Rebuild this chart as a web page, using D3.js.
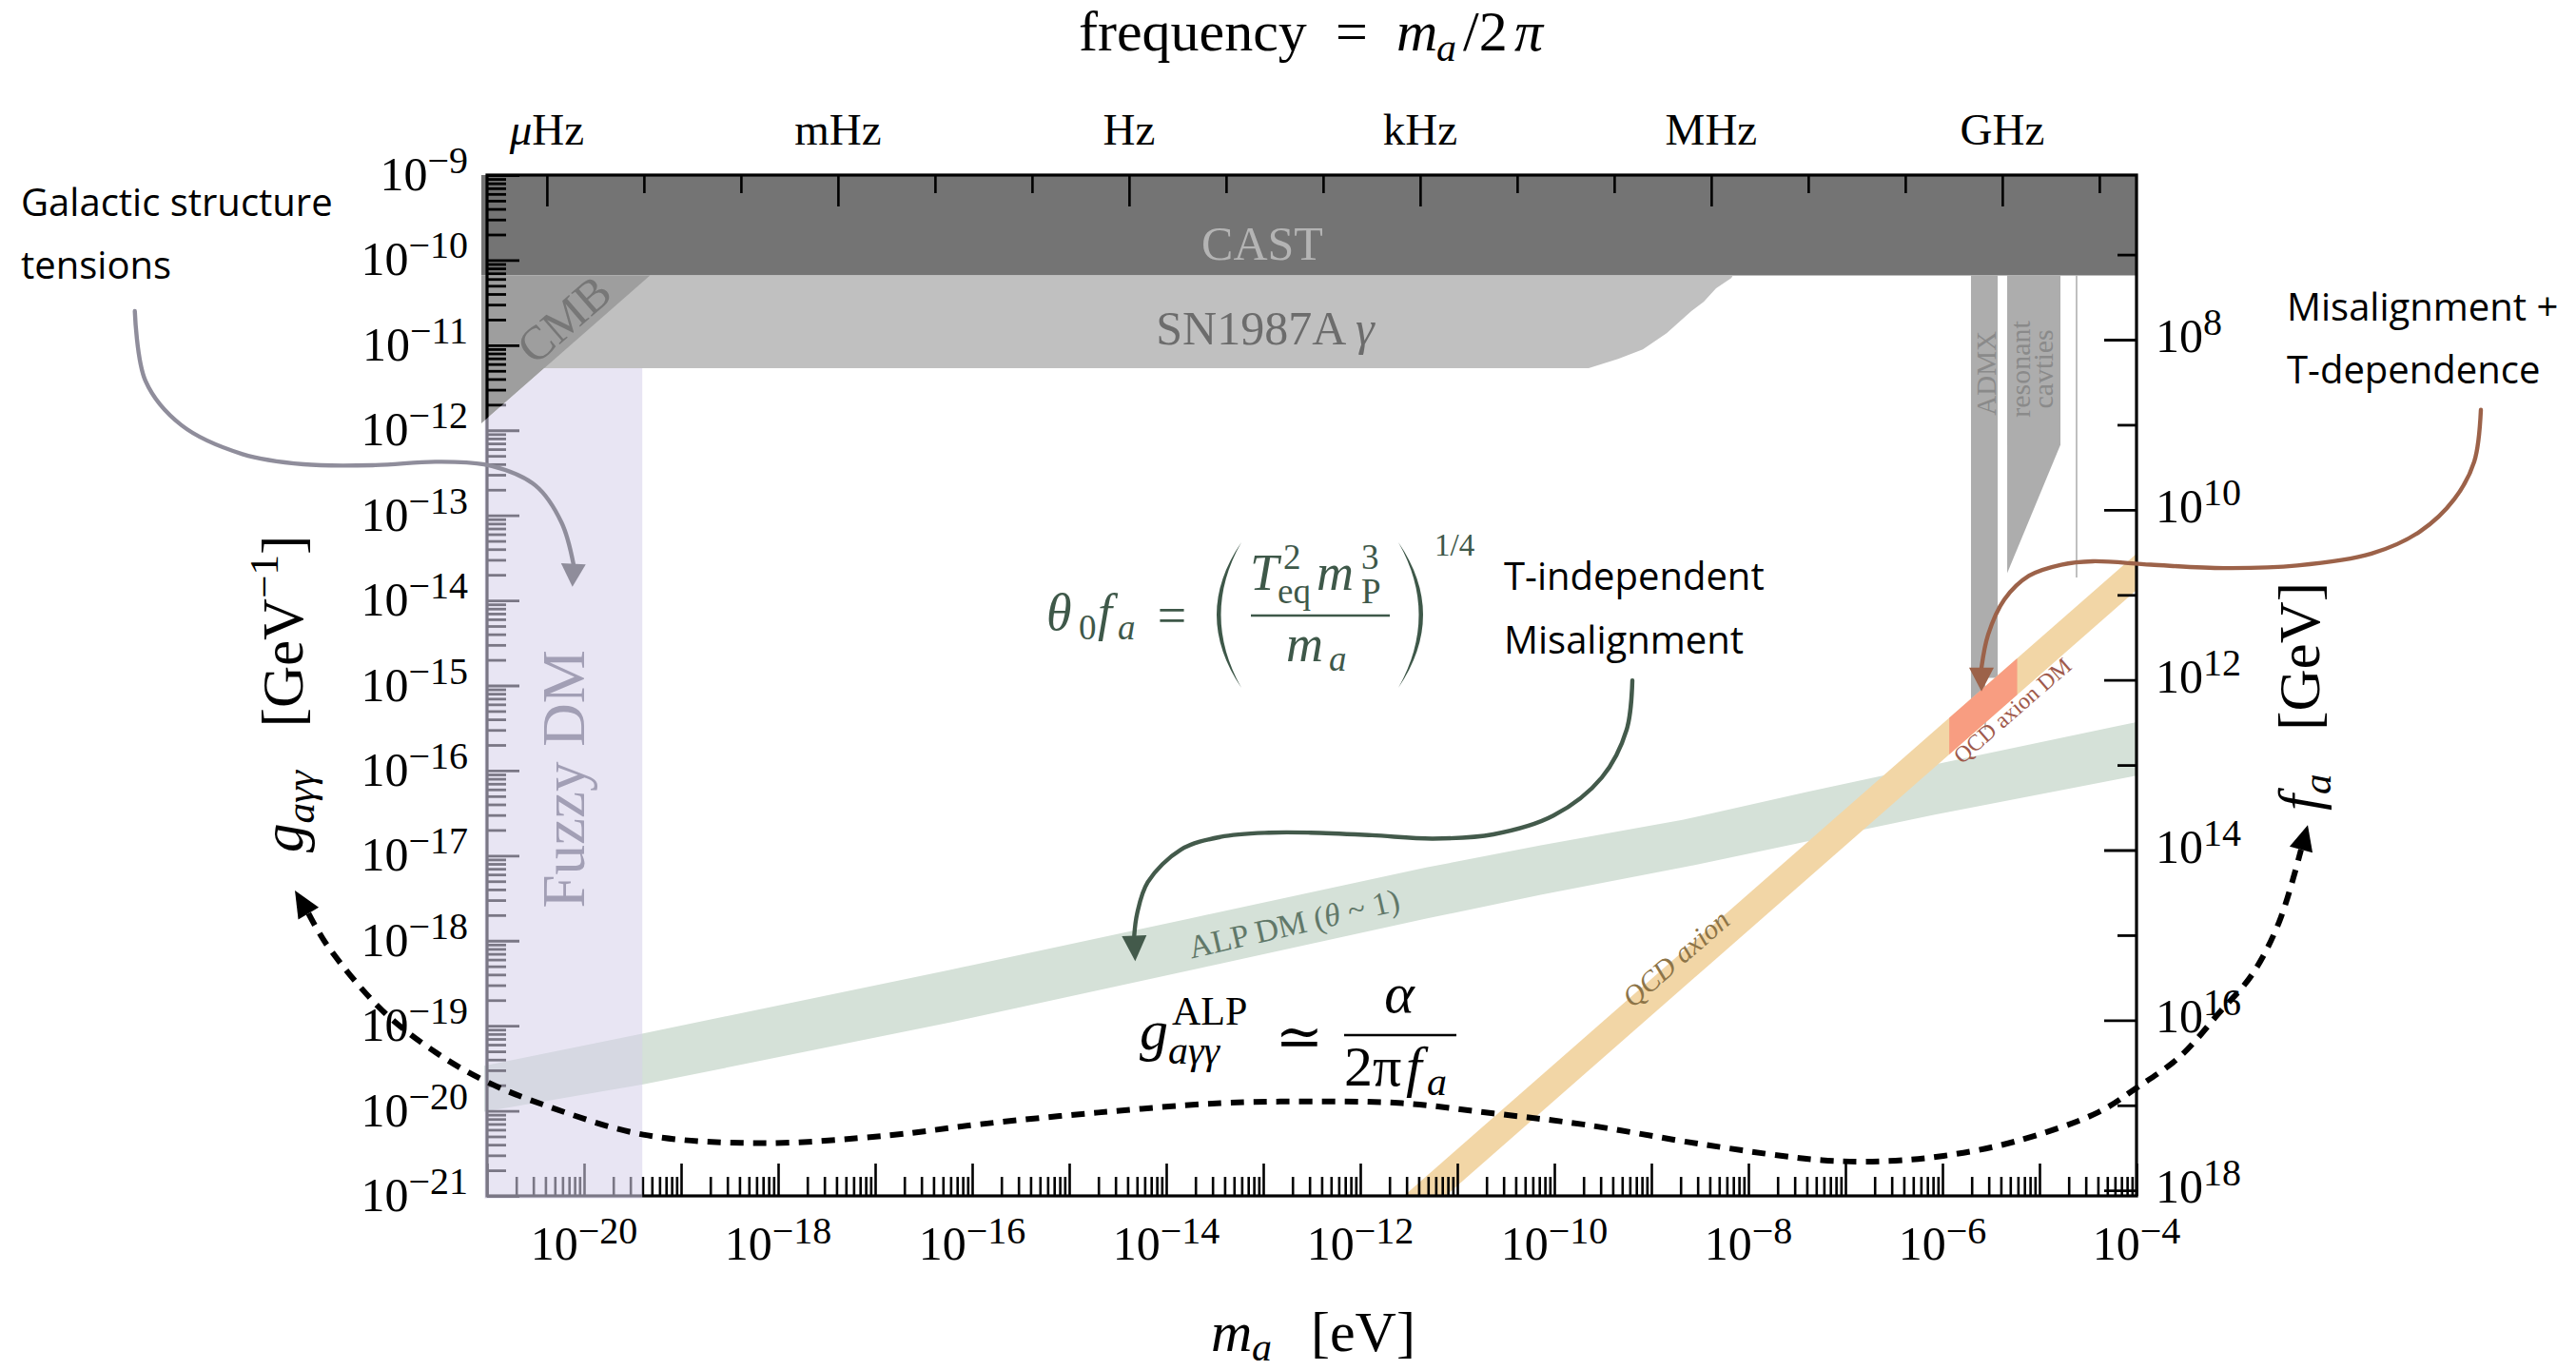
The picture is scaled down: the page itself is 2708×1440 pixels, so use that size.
<!DOCTYPE html>
<html>
<head>
<meta charset="utf-8">
<title>Axion / ALP parameter space</title>
<script src="https://cdn.jsdelivr.net/npm/d3@7"></script>
<style>
  html, body { margin: 0; padding: 0; background: #ffffff; }
  svg { display: block; }
</style>
</head>
<body>
<svg id="chart" width="2708" height="1440" xmlns="http://www.w3.org/2000/svg"></svg>
<script>
// ===================== DATA (log10 values: m_a in eV, g in GeV^-1) =====================
const massExtent = [-21, -4];
const couplingExtent = [-9, -21];

const massTickExp = [-21,-20,-19,-18,-17,-16,-15,-14,-13,-12,-11,-10,-9,-8,-7,-6,-5,-4];
const massLabelExp = [-20,-18,-16,-14,-12,-10,-8,-6,-4];
const couplingTickExp = [-9,-10,-11,-12,-13,-14,-15,-16,-17,-18,-19,-20,-21];
const minorMultipliers = [2,3,4,5,6,7,8,9];
const freqTickExp = [-6,-5,-4,-3,-2,-1,0,1,2,3,4,5,6,7,8,9,10];
const freqLabelExp = [-6,-3,0,3,6,9];
const freqPrefixes = ["\u03bc","m","","k","M","G"];
const faTickExp = [7,8,9,10,11,12,13,14,15,16,17,18];
const faLabelExp = [8,10,12,14,16,18];
const hOverEV = 4.1357e-15;          // m_a [eV] per Hz
const alphaOver2Pi = 1.1614e-3;      // g = alpha/(2 pi f_a)

// CAST helioscope
const castMass = [-21.06, -4.0, -4.0, -21.06];
const castG    = [-9.0, -9.0, -10.18, -10.18];
// SN1987A gamma
const snMass = [-21.06, -8.16, -8.176, -8.333, -8.461, -8.588, -8.843, -9.088, -9.343, -9.647, -21.06];
const snG    = [-10.18, -10.18, -10.21, -10.33, -10.49, -10.60, -10.86, -11.05, -11.16, -11.27, -11.27];
// CMB
const cmbMass = [-21.06, -19.32, -21.06];
const cmbG    = [-10.18, -10.18, -11.92];
// ADMX
const admxMass = [-5.706, -5.431, -5.431, -5.559, -5.559, -5.706];
const admxG    = [-10.18, -10.18, -14.91, -14.91, -15.19, -15.19];
const admxTailMass = [-5.559, -5.559];
const admxTailG    = [-15.19, -15.52];
// resonant cavities
const cavMass = [-5.333, -4.784, -4.784, -5.333];
const cavG    = [-10.18, -10.18, -12.17, -13.68];
const cavLineMass = [-4.618, -4.618];
const cavLineG    = [-10.18, -13.73];
// ALP DM band (theta ~ 1)
const alpMass  = [-21.03, -19.39, -16.22, -13.76, -11.32, -10.14, -8.68, -7.39, -6.09, -4.0];
const alpUpper = [-19.47, -19.09, -18.34, -17.74, -17.14, -16.88, -16.58, -16.25, -15.93, -15.43];
const alpLower = [-20.01, -19.69, -18.96, -18.35, -17.74, -17.46, -17.14, -16.83, -16.52, -16.06];
// QCD axion band
const qcdMass  = [-12.2, -3.5];
const qcdUpper = [-21.65, -12.95];
const qcdLower = [-22.08, -13.38];
// QCD axion DM
const qcdDmMass  = [-5.93, -5.23];
const qcdDmUpper = [-15.38, -14.68];
const qcdDmLower = [-15.81, -15.11];
// Fuzzy DM
const fuzzyMass = [-21.025, -20.41, -19.4, -19.4, -21.025];
const fuzzyG    = [-11.885, -11.27, -11.27, -21.03, -21.03];

// annotation curves (first/last point = arrow tips where relevant)
const dashMass = [-22.98,-22.84,-22.65,-22.08,-21.52,-21.00,-20.39,-19.39,-18.18,-16.87,-15.94,-14.70,-13.44,-12.51,-11.57,-10.63,-9.70,-8.44,-7.24,-6.56,-5.99,-5.25,-4.40,-4.00,-3.55,-3.15,-2.81,-2.53,-2.304,-2.235];
const dashG    = [-17.41,-17.68,-18.05,-18.82,-19.32,-19.66,-19.94,-20.28,-20.38,-20.29,-20.16,-20.02,-19.91,-19.89,-19.91,-20.03,-20.16,-20.40,-20.58,-20.59,-20.53,-20.36,-20.02,-19.73,-19.36,-18.85,-18.40,-17.78,-16.93,-16.64];
const galArrowMass = [-24.63,-24.52,-24.15,-23.52,-22.89,-22.15,-21.52,-20.95,-20.50,-20.23,-20.11,-20.12];
const galArrowG    = [-10.60,-11.42,-11.94,-12.28,-12.40,-12.41,-12.37,-12.42,-12.65,-13.09,-13.57,-13.84];
const misArrowMass = [-9.196,-9.255,-9.51,-10.01,-10.63,-11.25,-11.88,-12.51,-12.94,-13.44,-13.85,-14.19,-14.30,-14.33,-14.32];
const misArrowG    = [-14.94,-15.52,-16.08,-16.53,-16.75,-16.80,-16.76,-16.73,-16.73,-16.78,-16.93,-17.31,-17.68,-17.94,-18.24];
const tdepArrowMass = [-0.451,-0.520,-0.725,-1.078,-1.578,-2.343,-3.098,-3.853,-4.451,-4.775,-5.108,-5.363,-5.529,-5.598,-5.598];
const tdepArrowG    = [-11.76,-12.37,-12.81,-13.19,-13.45,-13.59,-13.62,-13.58,-13.54,-13.58,-13.71,-13.99,-14.40,-14.79,-15.07];

// ===================== RENDER =====================
const serif = "'Liberation Serif', 'DejaVu Serif', serif";
const sans = "'Open Sans', 'Noto Sans', sans-serif";
const svg = d3.select("#chart");

const x = d3.scaleLog().domain([Math.pow(10, massExtent[0]), Math.pow(10, massExtent[1])]).range([512, 2246]);
const y = d3.scaleLog().domain([Math.pow(10, couplingExtent[0]), Math.pow(10, couplingExtent[1])]).range([184, 1257]);
const X = v => x(Math.pow(10, v));
const Y = v => y(Math.pow(10, v));
const pts = (ms, gs) => ms.map((m, i) => [X(m), Y(gs[i])]);
const polyPath = (ms, gs) => d3.line()(pts(ms, gs)) + "Z";

const pl = X(massExtent[0]), pr = X(massExtent[1]), pt = Y(couplingExtent[0]), pb = Y(couplingExtent[1]);

svg.append("defs").append("clipPath").attr("id", "clipPlot").append("rect")
  .attr("x", X(-21.06)).attr("y", pt).attr("width", pr - X(-21.06)).attr("height", pb - pt);

const gReg = svg.append("g").attr("clip-path", "url(#clipPlot)");
gReg.append("path").attr("d", polyPath(alpMass.concat(alpMass.slice().reverse()), alpUpper.concat(alpLower.slice().reverse()))).attr("fill", "#d5e1d8");
gReg.append("path").attr("d", polyPath(castMass, castG)).attr("fill", "#747474");
gReg.append("path").attr("d", polyPath(snMass, snG)).attr("fill", "#c0c0c0");
gReg.append("path").attr("d", polyPath(cmbMass, cmbG)).attr("fill", "#9e9e9e");
gReg.append("path").attr("d", polyPath(admxMass, admxG)).attr("fill", "#adadad");
gReg.append("path").attr("d", d3.line()(pts(admxTailMass, admxTailG))).attr("stroke", "#a8a8a8").attr("stroke-width", 1.5).attr("fill", "none");
gReg.append("path").attr("d", polyPath(cavMass, cavG)).attr("fill", "#adadad");
gReg.append("path").attr("d", d3.line()(pts(cavLineMass, cavLineG))).attr("stroke", "#b0b0b0").attr("stroke-width", 1.6).attr("fill", "none");
gReg.append("path").attr("d", polyPath(qcdMass.concat(qcdMass.slice().reverse()), qcdUpper.concat(qcdLower.slice().reverse()))).attr("fill", "#f2d6a6");
gReg.append("path").attr("d", polyPath(qcdDmMass.concat(qcdDmMass.slice().reverse()), qcdDmUpper.concat(qcdDmLower.slice().reverse()))).attr("fill", "rgba(250,135,115,0.72)");

// region labels
function label(g, lm, lg, txt, opts) {
  const t = g.append("text").attr("font-family", serif)
    .attr("font-size", opts.size).attr("fill", opts.color)
    .attr("text-anchor", opts.anchor || "middle")
    .attr("transform", `translate(${X(lm)},${Y(lg)}) rotate(${opts.rot || 0})`);
  if (opts.dy) t.attr("dy", opts.dy);
  if (opts.italic) t.attr("font-style", "italic");
  return t.text(txt);
}
label(svg, -13.01, -9.996, "CAST", {size: 50, color: "#b4b4b4"});
const snT = svg.append("text").attr("font-family", serif).attr("font-size", 50).attr("fill", "#6c6c6c")
  .attr("text-anchor", "middle").attr("x", X(-12.98)).attr("y", Y(-10.99));
snT.append("tspan").text("SN1987A ");
snT.append("tspan").attr("font-style", "italic").text("\u03b3");
label(svg, -20.21, -10.69, "CMB", {size: 50, color: "#777777", rot: -41, dy: "0.35em"});
label(svg, -5.451, -11.33, "ADMX", {size: 29, color: "#8a8a8a", rot: -90});
label(svg, -5.098, -11.28, "resonant", {size: 30, color: "#8a8a8a", rot: -90});
label(svg, -4.863, -11.28, "cavties", {size: 30, color: "#8a8a8a", rot: -90});

// ---- axes ----
const gAx = svg.append("g");
const minorOf = exps => exps.slice(0, -1).flatMap(e => minorMultipliers.map(k => k * Math.pow(10, e)));
const massMinor = minorOf(massTickExp);
const couplingMinor = minorOf(couplingTickExp.slice().reverse());
function styleAxis(sel, w) {
  sel.select(".domain").remove();
  sel.selectAll("line").attr("stroke", "#000").attr("stroke-width", w);
  sel.selectAll("text").remove();
}
gAx.append("g").attr("transform", `translate(0,${pb})`)
  .call(d3.axisBottom(x).tickValues(massTickExp.map(e => Math.pow(10, e))).tickSize(-34)).call(s => styleAxis(s, 2.6));
gAx.append("g").attr("transform", `translate(0,${pb})`)
  .call(d3.axisBottom(x).tickValues(massMinor).tickSize(-20)).call(s => styleAxis(s, 2.6));
gAx.append("g").attr("transform", `translate(${pl},0)`)
  .call(d3.axisLeft(y).tickValues(couplingTickExp.map(e => Math.pow(10, e))).tickSize(-34)).call(s => styleAxis(s, 2.8));
gAx.append("g").attr("transform", `translate(${pl},0)`)
  .call(d3.axisLeft(y).tickValues(couplingMinor).tickSize(-20)).call(s => styleAxis(s, 2.8));
gAx.append("g").attr("transform", `translate(0,${pt})`)
  .call(d3.axisTop(x).tickValues(freqTickExp.filter(e => freqLabelExp.includes(e)).map(e => hOverEV * Math.pow(10, e))).tickSize(-33)).call(s => styleAxis(s, 2.6));
gAx.append("g").attr("transform", `translate(0,${pt})`)
  .call(d3.axisTop(x).tickValues(freqTickExp.filter(e => !freqLabelExp.includes(e)).map(e => hOverEV * Math.pow(10, e))).tickSize(-19)).call(s => styleAxis(s, 2.6));
gAx.append("g").attr("transform", `translate(${pr},0)`)
  .call(d3.axisRight(y).tickValues(faTickExp.filter(e => faLabelExp.includes(e)).map(e => alphaOver2Pi / Math.pow(10, e))).tickSize(-34)).call(s => styleAxis(s, 2.8));
gAx.append("g").attr("transform", `translate(${pr},0)`)
  .call(d3.axisRight(y).tickValues(faTickExp.filter(e => !faLabelExp.includes(e)).map(e => alphaOver2Pi / Math.pow(10, e))).tickSize(-20)).call(s => styleAxis(s, 2.8));
gAx.append("rect").attr("x", pl).attr("y", pt).attr("width", pr - pl).attr("height", pb - pt)
  .attr("fill", "none").attr("stroke", "#000").attr("stroke-width", 3.2);

// fuzzy DM overlay (covers axes)
svg.append("path").attr("d", polyPath(fuzzyMass, fuzzyG)).attr("fill", "rgb(214,209,234)").attr("fill-opacity", 0.57);
label(svg, -20.0, -16.10, "Fuzzy DM", {size: 63, color: "#a29fb5", rot: -90});

// band labels
const alpT = svg.append("text").attr("font-family", serif).attr("font-size", 34).attr("fill", "#617869")
  .attr("transform", `translate(${X(-13.74)},${Y(-18.21)}) rotate(-13)`);
alpT.append("tspan").text("ALP DM (");
alpT.append("tspan").attr("font-style", "italic").text("\u03b8");
alpT.append("tspan").text(" ~ 1)");
label(svg, -9.19, -18.80, "QCD axion", {size: 30, color: "#8d7447", rot: -41, anchor: "start", italic: true});
label(svg, -5.80, -15.93, "QCD axion DM", {size: 24, color: "#9f5a4c", rot: -41, anchor: "start"});

// ---- annotation curves ----
function arrowHead(g, tip, base, halfW, color) {
  const dx = tip[0] - base[0], dy = tip[1] - base[1], L = Math.hypot(dx, dy);
  const px = -dy / L, py = dx / L;
  g.append("path").attr("d", `M${tip[0]},${tip[1]}L${base[0] + px * halfW},${base[1] + py * halfW}L${base[0] - px * halfW},${base[1] - py * halfW}Z`).attr("fill", color);
}
const gAnn = svg.append("g");
const curve = d3.line().curve(d3.curveCatmullRom.alpha(0.5));
function arrowCurve(ms, gs, color, w) {
  const p = pts(ms, gs);
  gAnn.append("path").attr("d", curve(p.slice(0, -1))).attr("fill", "none").attr("stroke", color).attr("stroke-width", w).attr("stroke-linecap", "round");
  arrowHead(gAnn, p[p.length - 1], p[p.length - 2], 13, color);
}
arrowCurve(galArrowMass, galArrowG, "#8f8d9b", 4.4);
arrowCurve(misArrowMass, misArrowG, "#435a4b", 4.4);
arrowCurve(tdepArrowMass, tdepArrowG, "#9c6249", 4.4);
{
  const p = pts(dashMass, dashG);
  gAnn.append("path").attr("d", curve(p.slice(1, -1))).attr("fill", "none").attr("stroke", "#000")
    .attr("stroke-width", 6).attr("stroke-dasharray", "14,10");
  arrowHead(gAnn, p[0], p[1], 12.5, "#000");
  arrowHead(gAnn, p[p.length - 1], p[p.length - 2], 12.5, "#000");
}

// ---- tick labels ----
const gLab = svg.append("g").attr("font-family", serif).attr("fill", "#000");
function powLabel(xp, yp, exp, anchor, supDy) {
  const t = gLab.append("text").attr("x", xp).attr("y", yp).attr("text-anchor", anchor).attr("font-size", 50);
  t.append("tspan").text("10");
  t.append("tspan").attr("font-size", 40).attr("dy", supDy).text(exp < 0 ? "\u2212" + (-exp) : String(exp));
}
massLabelExp.forEach(e => powLabel(X(e), 1324, e, "middle", -17));
couplingTickExp.forEach(e => powLabel(492, Y(e) + 16, e, "end", -18));
faLabelExp.forEach(e => powLabel(2266, y(alphaOver2Pi / Math.pow(10, e)) + 13, e, "start", -18));
freqLabelExp.forEach((e, i) => {
  const t = gLab.append("text").attr("x", x(hOverEV * Math.pow(10, e))).attr("y", 152)
    .attr("text-anchor", "middle").attr("font-size", 47);
  if (freqPrefixes[i] === "\u03bc") t.append("tspan").attr("font-style", "italic").text("\u03bc");
  else t.append("tspan").text(freqPrefixes[i]);
  t.append("tspan").text("Hz");
});

// ---- axis titles ----
function pieces(g, list) {
  list.forEach(d => {
    const t = g.append("text").attr("x", d.x).attr("y", d.y).attr("font-size", d.s).text(d.t);
    if (d.i) t.attr("font-style", "italic");
    if (d.a) t.attr("text-anchor", d.a);
  });
}
const gTit = svg.append("g").attr("font-family", serif).attr("fill", "#000");
pieces(gTit, [
  {x: 1134, y: 53, s: 60, t: "frequency"},
  {x: 1421, y: 53, s: 60, t: "=", a: "middle"},
  {x: 1468, y: 53, s: 60, t: "m", i: 1},
  {x: 1510, y: 64, s: 42, t: "a", i: 1},
  {x: 1538, y: 53, s: 60, t: "/2"},
  {x: 1592, y: 53, s: 60, t: "\u03c0", i: 1},
  {x: 1273, y: 1420, s: 60, t: "m", i: 1},
  {x: 1316, y: 1430, s: 42, t: "a", i: 1},
  {x: 1378, y: 1420, s: 60, t: "[eV]"}
]);
{
  const t = gTit.append("text").attr("font-size", 61).attr("transform", "translate(318,896) rotate(-90)");
  t.append("tspan").attr("font-style", "italic").text("g");
  t.append("tspan").attr("font-style", "italic").attr("font-size", 43).attr("dy", 12).text("a\u03b3\u03b3");
  t.append("tspan").attr("dy", -12).text("\u2002 [GeV");
  t.append("tspan").attr("font-size", 43).attr("dy", -26).text("\u22121");
  t.append("tspan").attr("dy", 26).text("]");
  const r = gTit.append("text").attr("font-size", 61).attr("transform", "translate(2438,852) rotate(-90)");
  r.append("tspan").attr("font-style", "italic").text("f");
  r.append("tspan").attr("font-style", "italic").attr("font-size", 43).attr("dy", 12).text("a");
  r.append("tspan").attr("dy", -12).text("\u2002 [GeV]");
}

// ---- formulas ----
const gF1 = svg.append("g").attr("font-family", serif).attr("fill", "#3e5849");
pieces(gF1, [
  {x: 1100, y: 662, s: 54, t: "\u03b8", i: 1},
  {x: 1134, y: 672, s: 37, t: "0"},
  {x: 1154, y: 662, s: 54, t: "f", i: 1},
  {x: 1175, y: 672, s: 37, t: "a", i: 1},
  {x: 1232, y: 665, s: 54, t: "=", a: "middle"},
  {x: 1314, y: 620, s: 54, t: "T", i: 1},
  {x: 1349, y: 598, s: 37, t: "2"},
  {x: 1343, y: 634, s: 37, t: "eq"},
  {x: 1384, y: 620, s: 54, t: "m", i: 1},
  {x: 1431, y: 598, s: 37, t: "3"},
  {x: 1431, y: 634, s: 37, t: "P"},
  {x: 1352, y: 695, s: 54, t: "m", i: 1},
  {x: 1397, y: 705, s: 37, t: "a", i: 1},
  {x: 1508, y: 584, s: 33, t: "1/4"}
]);
gF1.append("line").attr("x1", 1315).attr("x2", 1461).attr("y1", 647).attr("y2", 647).attr("stroke", "#3e5849").attr("stroke-width", 2.6);
gF1.append("path").attr("d", "M1305,570 Q1253,646 1305,723 Q1262,646 1305,570Z").attr("fill", "#3e5849");
gF1.append("path").attr("d", "M1470,570 Q1522,646 1470,723 Q1513,646 1470,570Z").attr("fill", "#3e5849");

const gF2 = svg.append("g").attr("font-family", serif).attr("fill", "#000");
pieces(gF2, [
  {x: 1198, y: 1103, s: 60, t: "g", i: 1},
  {x: 1232, y: 1077, s: 42, t: "ALP"},
  {x: 1228, y: 1118, s: 42, t: "a\u03b3\u03b3", i: 1},
  {x: 1366, y: 1110, s: 60, t: "\u2243", a: "middle"},
  {x: 1471, y: 1064, s: 60, t: "\u03b1", i: 1, a: "middle"},
  {x: 1413, y: 1141, s: 60, t: "2\u03c0"},
  {x: 1478, y: 1141, s: 60, t: "f", i: 1},
  {x: 1500, y: 1151, s: 42, t: "a", i: 1}
]);
gF2.append("line").attr("x1", 1413).attr("x2", 1531).attr("y1", 1088).attr("y2", 1088).attr("stroke", "#000").attr("stroke-width", 2.6);

// ---- annotation texts ----
const gTxt = svg.append("g").attr("font-family", sans).attr("font-size", 40).attr("fill", "#000");
pieces(gTxt, [
  {x: 22, y: 227, s: 40, t: "Galactic structure"},
  {x: 22, y: 293, s: 40, t: "tensions"},
  {x: 2404, y: 337, s: 40, t: "Misalignment +"},
  {x: 2404, y: 403, s: 40, t: "T-dependence"},
  {x: 1581, y: 620, s: 40, t: "T-independent"},
  {x: 1581, y: 687, s: 40, t: "Misalignment"}
]);
</script>
</body>
</html>
